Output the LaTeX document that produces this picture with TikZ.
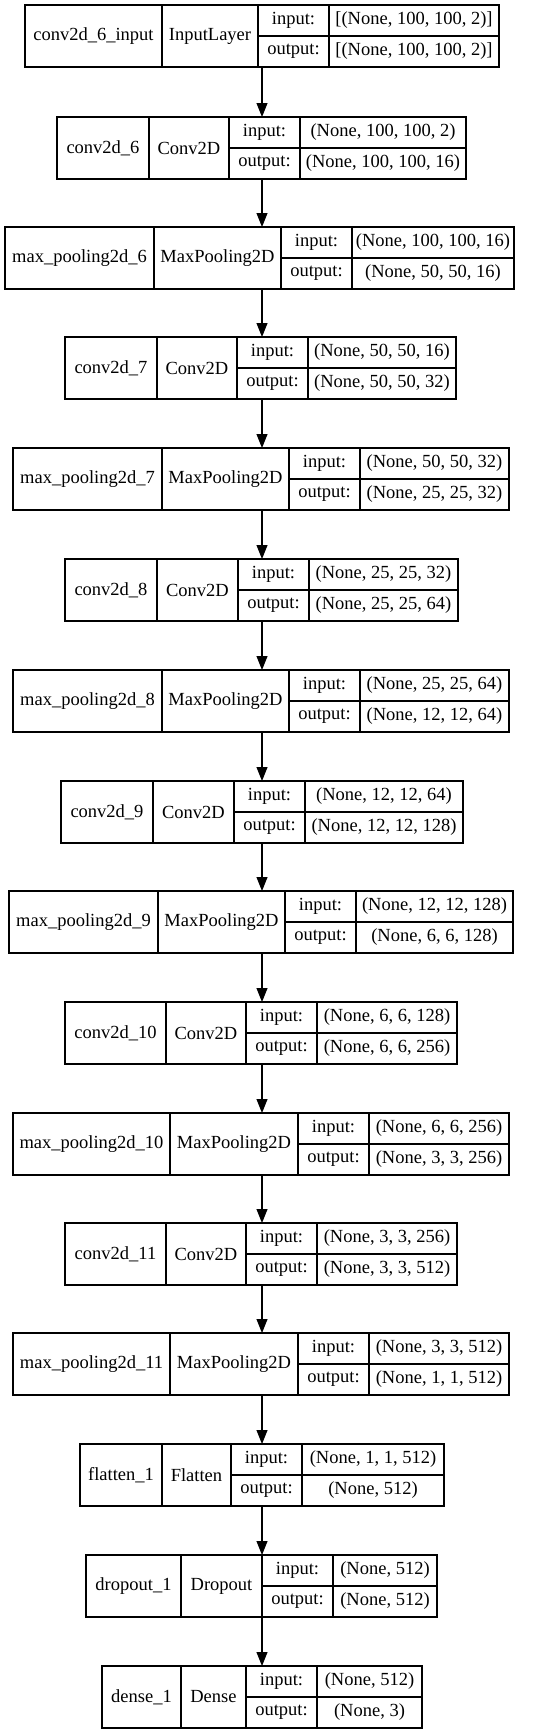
\documentclass[tikz,border=0pt]{standalone}
\usepackage{fontspec}
\setmainfont{Liberation Serif}
\usepackage{tikz}
\usetikzlibrary{positioning,arrows.meta}
\tikzstyle{cell} = [draw, rectangle, line width=1.1pt, outer sep=0pt, inner sep=2pt, text=black, align=center]
\tikzstyle{namecell} = [cell, anchor=north west, minimum height=62pt]
\tikzstyle{typecell} = [cell, minimum height=62pt]
\tikzstyle{iocell} = [cell, minimum height=31pt, minimum width=71pt]
\tikzstyle{valcell} = [cell, minimum height=31pt]
\tikzstyle{arr} = [draw, line width=1.1pt, -{Triangle[length=14pt,width=11pt]}]

% one layer: id, top left corner, name/type/value widths, name, type, input, output
\newcommand{\layer}[9]{%
    \node [namecell, minimum width=#3pt] (#1) at #2 {\detokenize{#6}};
    \node [typecell, minimum width=#4pt, right=0pt of #1] (#1t) {#7};
    \node [iocell, below right=0pt and 0pt of #1t.north east] (#1i) {input:};
    \node [iocell, below=0pt of #1i] (#1o) {output:};
    \node [valcell, minimum width=#5pt, right=0pt of #1i] (#1iv) {#8};
    \node [valcell, minimum width=#5pt, right=0pt of #1o] (#1ov) {#9};
}

\begin{document}
\begin{tikzpicture}[x=1pt, y=-1pt, font=\fontsize{18.5}{22}\selectfont]
    \useasboundingbox (0,0) rectangle (553,1733);
    \coordinate (ax) at (262,0);

    \layer{inp}{(25,5)}{137}{96}{170}{conv2d_6_input}{InputLayer}{[(None, 100, 100, 2)]}{[(None, 100, 100, 2)]}
    \layer{conv6}{(57,117)}{92}{80}{166}{conv2d_6}{Conv2D}{(None, 100, 100, 2)}{(None, 100, 100, 16)}
    \layer{pool6}{(5,227)}{149}{127}{162}{max_pooling2d_6}{MaxPooling2D}{(None, 100, 100, 16)}{(None, 50, 50, 16)}
    \layer{conv7}{(65,337)}{92}{80}{148}{conv2d_7}{Conv2D}{(None, 50, 50, 16)}{(None, 50, 50, 32)}
    \layer{pool7}{(13,448)}{149}{127}{149}{max_pooling2d_7}{MaxPooling2D}{(None, 50, 50, 32)}{(None, 25, 25, 32)}
    \layer{conv8}{(65,559)}{92}{81}{149}{conv2d_8}{Conv2D}{(None, 25, 25, 32)}{(None, 25, 25, 64)}
    \layer{pool8}{(13,670)}{149}{127}{149}{max_pooling2d_8}{MaxPooling2D}{(None, 25, 25, 64)}{(None, 12, 12, 64)}
    \layer{conv9}{(61,781)}{92}{81}{158}{conv2d_9}{Conv2D}{(None, 12, 12, 64)}{(None, 12, 12, 128)}
    \layer{pool9}{(9,891)}{149}{127}{157}{max_pooling2d_9}{MaxPooling2D}{(None, 12, 12, 128)}{(None, 6, 6, 128)}
    \layer{conv10}{(65,1002)}{101}{80}{140}{conv2d_10}{Conv2D}{(None, 6, 6, 128)}{(None, 6, 6, 256)}
    \layer{pool10}{(13,1113)}{157}{128}{140}{max_pooling2d_10}{MaxPooling2D}{(None, 6, 6, 256)}{(None, 3, 3, 256)}
    \layer{conv11}{(65,1223)}{101}{80}{140}{conv2d_11}{Conv2D}{(None, 3, 3, 256)}{(None, 3, 3, 512)}
    \layer{pool11}{(13,1333)}{157}{128}{140}{max_pooling2d_11}{MaxPooling2D}{(None, 3, 3, 512)}{(None, 1, 1, 512)}
    \layer{flat}{(80,1444)}{82}{69}{142}{flatten_1}{Flatten}{(None, 1, 1, 512)}{(None, 512)}
    \layer{drop}{(86,1555)}{95}{81}{104}{dropout_1}{Dropout}{(None, 512)}{(None, 512)}
    \layer{dense}{(102,1666)}{79}{65}{105}{dense_1}{Dense}{(None, 512)}{(None, 3)}

    \draw [arr] (inp.south -| ax) -- (conv6.north -| ax);
    \draw [arr] (conv6.south -| ax) -- (pool6.north -| ax);
    \draw [arr] (pool6.south -| ax) -- (conv7.north -| ax);
    \draw [arr] (conv7.south -| ax) -- (pool7.north -| ax);
    \draw [arr] (pool7.south -| ax) -- (conv8.north -| ax);
    \draw [arr] (conv8.south -| ax) -- (pool8.north -| ax);
    \draw [arr] (pool8.south -| ax) -- (conv9.north -| ax);
    \draw [arr] (conv9.south -| ax) -- (pool9.north -| ax);
    \draw [arr] (pool9.south -| ax) -- (conv10.north -| ax);
    \draw [arr] (conv10.south -| ax) -- (pool10.north -| ax);
    \draw [arr] (pool10.south -| ax) -- (conv11.north -| ax);
    \draw [arr] (conv11.south -| ax) -- (pool11.north -| ax);
    \draw [arr] (pool11.south -| ax) -- (flat.north -| ax);
    \draw [arr] (flat.south -| ax) -- (drop.north -| ax);
    \draw [arr] (drop.south -| ax) -- (dense.north -| ax);
\end{tikzpicture}
\end{document}
